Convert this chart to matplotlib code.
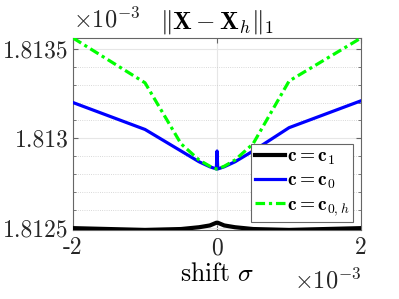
import matplotlib
matplotlib.use("Agg")
import matplotlib.pyplot as plt
from matplotlib.ticker import MultipleLocator

plt.rcParams['font.family'] = 'serif'
plt.rcParams['font.serif'] = ['cmr10']
plt.rcParams['mathtext.fontset'] = 'cm'
plt.rcParams['axes.unicode_minus'] = False

# shift sigma (x 1e-3)
shift = [-2, -1, -0.5, -0.25, -0.1, -0.01, 0, 0.01, 0.1, 0.25, 0.5, 1, 2]
# error values (x 1e-3)
err_c1 = [1.81250, 1.81249, 1.812495, 1.812505, 1.812515, 1.81253, 1.81253,
          1.81253, 1.812515, 1.812505, 1.812495, 1.81249, 1.81250]
err_c0 = [1.81320, 1.81305, 1.81293, 1.81287, 1.812842, 1.81283, 1.81293,
          1.81283, 1.812842, 1.81287, 1.81293, 1.81306, 1.81321]
err_c0h = [1.81356, 1.81331, 1.81297, 1.81288, 1.812845, 1.81283, 1.81283,
           1.81283, 1.812845, 1.81288, 1.81297, 1.81332, 1.81356]

labels = [r'$\mathbf{c} = \mathbf{c}_1$', r'$\mathbf{c} = \mathbf{c}_0$',
          r'$\mathbf{c} = \mathbf{c}_{0,h}$']
yticks = [1.8125, 1.813, 1.8135]
ytick_labels = ['1.8125', '1.813', '1.8135']
xticks = [-2, 0, 2]
xtick_labels = ['-2', '0', '2']

fig = plt.figure(figsize=(3.99, 2.99), dpi=100)
ax = fig.add_axes([0.183, 0.231, 0.722, 0.642])

ax.plot(shift, err_c1, color='black', lw=3.0, label=labels[0], zorder=3)
ax.plot(shift, err_c0, color='#0000ff', lw=2.3, label=labels[1], zorder=4)
ax.plot(shift, err_c0h, color='#00ff00', lw=2.3, dashes=(3.0, 1.2, 1.0, 1.2),
        label=labels[2], zorder=5)

ax.set_xlim(-2, 2)
ax.set_ylim(1.81249, 1.81356)
ax.set_xticks(xticks)
ax.set_xticklabels(xtick_labels)
ax.set_yticks(yticks)
ax.set_yticklabels(ytick_labels)
ax.yaxis.set_minor_locator(MultipleLocator(0.0001))

ax.grid(True, which='major', color='#e6e6e6', lw=0.8, zorder=0)
ax.grid(True, which='minor', axis='y', color='#cccccc', lw=0.6, ls=':', zorder=0)
ax.set_axisbelow(True)

for s in ax.spines.values():
    s.set_color('#666666')
    s.set_linewidth(0.8)
ax.tick_params(which='both', direction='in', colors='#666666', labelcolor='#262626',
               labelsize=17, right=True, top=True)
ax.tick_params(which='major', length=3.5)
ax.tick_params(which='minor', length=2)
ax.tick_params(axis='x', which='minor', bottom=False, top=False)
ax.tick_params(axis='x', pad=5)
ax.tick_params(axis='y', pad=3)

ax.set_title(r'$\|\mathbf{X} - \mathbf{X}_h\|_1$', fontsize=18, pad=7)
ax.set_xlabel(r'shift $\sigma$', fontsize=18.5, labelpad=2)
ax.text(0.0, 1.03, r'$\times10^{-3}$', transform=ax.transAxes, fontsize=17.5,
        ha='left', va='bottom', color='#262626')
ax.text(1.0, -0.2, r'$\times10^{-3}$', transform=ax.transAxes, fontsize=17.5,
        ha='right', va='top', color='#262626')

leg = ax.legend(loc='lower right', fontsize=14, frameon=True, fancybox=False,
                edgecolor='#666666', framealpha=1, borderpad=0.2,
                borderaxespad=0.0, handlelength=1.55, handletextpad=0.1,
                labelspacing=0.25, bbox_to_anchor=(0.972, 0.042))
leg.get_frame().set_linewidth(0.8)

fig.savefig('out.png', dpi=100)
